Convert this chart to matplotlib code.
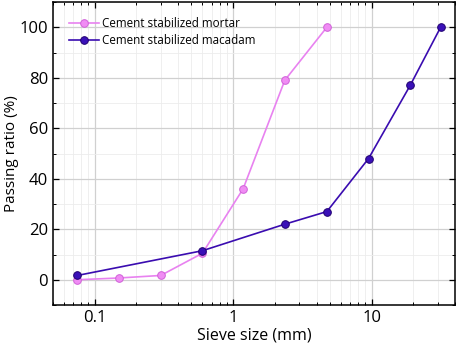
import matplotlib
matplotlib.use("Agg")
import matplotlib.pyplot as plt
from matplotlib.ticker import LogLocator, NullFormatter, FuncFormatter, MultipleLocator

plt.rcParams['font.family'] = ['Open Sans', 'DejaVu Sans']

mortar_x = [0.075, 0.15, 0.3, 0.6, 1.18, 2.36, 4.75]
mortar_y = [0.0, 0.7, 1.7, 10.5, 36.0, 79.0, 100.0]
macadam_x = [0.075, 0.6, 2.36, 4.75, 9.5, 19.0, 31.5]
macadam_y = [1.7, 11.5, 22.0, 27.0, 48.0, 77.0, 100.0]
labels = ["Cement stabilized mortar", "Cement stabilized macadam"]

fig = plt.figure(figsize=(4.57, 3.46), dpi=100)
ax = fig.add_axes([53/457, 1-305/346, (455-53)/457, (305-2)/346])

ax.plot(mortar_x, mortar_y, '-o', color='#E882F0', lw=1.2, ms=5.5,
        mfc='#F08CF4', mec='#D060D8', mew=0.7, label=labels[0], zorder=3)
ax.plot(macadam_x, macadam_y, '-o', color='#3A0CB0', lw=1.2, ms=5.5,
        mfc='#3A10B8', mec='#200070', mew=0.7, label=labels[1], zorder=4)

ax.set_xscale('log')
ax.set_xlim(0.05, 40)
ax.set_ylim(-10, 110)
ax.yaxis.set_major_locator(MultipleLocator(20))
ax.yaxis.set_minor_locator(MultipleLocator(10))
ax.xaxis.set_major_locator(LogLocator(base=10, numticks=10))
ax.xaxis.set_minor_locator(LogLocator(base=10, subs=range(2, 10), numticks=20))
ax.xaxis.set_minor_formatter(NullFormatter())
ax.xaxis.set_major_formatter(FuncFormatter(lambda v, p: f"{v:g}"))

ax.grid(True, which='major', color='#d0d0d0', lw=0.9)
ax.grid(True, which='minor', color='#ececec', lw=0.6)
ax.set_axisbelow(True)

ax.tick_params(which='both', direction='in', top=True, right=True, labelsize=12, colors='black')
ax.tick_params(which='major', length=4, width=0.9)
ax.tick_params(which='minor', length=2.5, width=0.7)
for s in ax.spines.values():
    s.set_linewidth(1.1)

ax.set_xlabel("Sieve size (mm)", fontsize=11.5, labelpad=1)
ax.set_ylabel("Passing ratio (%)", fontsize=11, labelpad=0)
ax.yaxis.set_label_coords(-0.085, 0.5)

ax.legend(loc='upper left', frameon=False, fontsize=8.4, handlelength=2.6,
          borderaxespad=0.0, labelspacing=0.35, handletextpad=0.25,
          bbox_to_anchor=(0.027, 0.965))

fig.savefig("out.png", dpi=100)
